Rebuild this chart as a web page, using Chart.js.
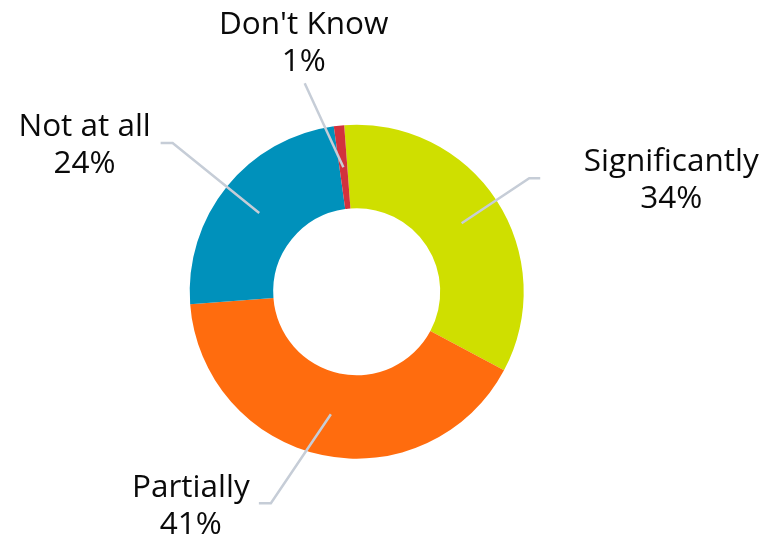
<!DOCTYPE html>
<html>
<head>
<meta charset="utf-8">
<script src="https://cdn.jsdelivr.net/npm/chart.js@4.4.1/dist/chart.umd.min.js"></script>
<style>
  html, body { margin: 0; padding: 0; background: #ffffff; }
  #wrap { width: 775px; height: 537px; position: relative; }
</style>
</head>
<body>
<div id="wrap"><canvas id="c" width="775" height="537"></canvas></div>
<script>
// ---- data ----
const categories = ['Significantly', 'Partially', 'Not at all', "Don't Know"];
const values = [34, 41, 24, 1];
const percentLabels = ['34%', '41%', '24%', '1%'];
const sliceColors = ['#CFDF00', '#FF6C0E', '#0091BB', '#D2323D'];

// ---- label layout (annotation offsets, relative to each slice's centre point) ----
const leaderElbow = [[67.6, -45], [-60, 89], [-86.6, -70], [-38.7, -84]];
const leaderTail = [11, -12, -12, 0];
const textOffset = [[142, -7], [-80, -6], [-88, -7], [-1, -49]];

const labelPlugin = {
  id: 'leaderLabels',
  afterDatasetsDraw(chart) {
    const ctx = chart.ctx;
    const meta = chart.getDatasetMeta(0);
    ctx.save();
    meta.data.forEach((arc, i) => {
      const p = arc.getCenterPoint();
      const ex = p.x + leaderElbow[i][0];
      const ey = p.y + leaderElbow[i][1];
      ctx.beginPath();
      ctx.strokeStyle = '#C6CDD7';
      ctx.lineWidth = 2.5;
      ctx.lineJoin = 'miter';
      ctx.moveTo(p.x, p.y);
      ctx.lineTo(ex, ey);
      if (leaderTail[i] !== 0) ctx.lineTo(ex + leaderTail[i], ey);
      ctx.stroke();

      const tx = ex + textOffset[i][0];
      const ty = ey + textOffset[i][1];
      ctx.fillStyle = '#0a0a0a';
      ctx.font = '31.5px "Open Sans"';
      ctx.textAlign = 'center';
      ctx.textBaseline = 'alphabetic';
      ctx.fillText(categories[i], tx, ty);
      ctx.fillText(percentLabels[i], tx, ty + 37);
    });
    ctx.restore();
  }
};

new Chart(document.getElementById('c'), {
  type: 'doughnut',
  data: {
    labels: categories,
    datasets: [{
      data: values,
      backgroundColor: sliceColors,
      borderColor: '#ffffff',
      borderWidth: 0
    }]
  },
  options: {
    responsive: false,
    animation: false,
    rotation: -4.3,
    radius: 167,
    cutout: '50%',
    layout: { padding: { left: 0, right: 61.6, top: 46.4, bottom: 0 } },
    plugins: {
      legend: { display: false },
      tooltip: { enabled: false }
    }
  },
  plugins: [labelPlugin]
});
</script>
</body>
</html>
